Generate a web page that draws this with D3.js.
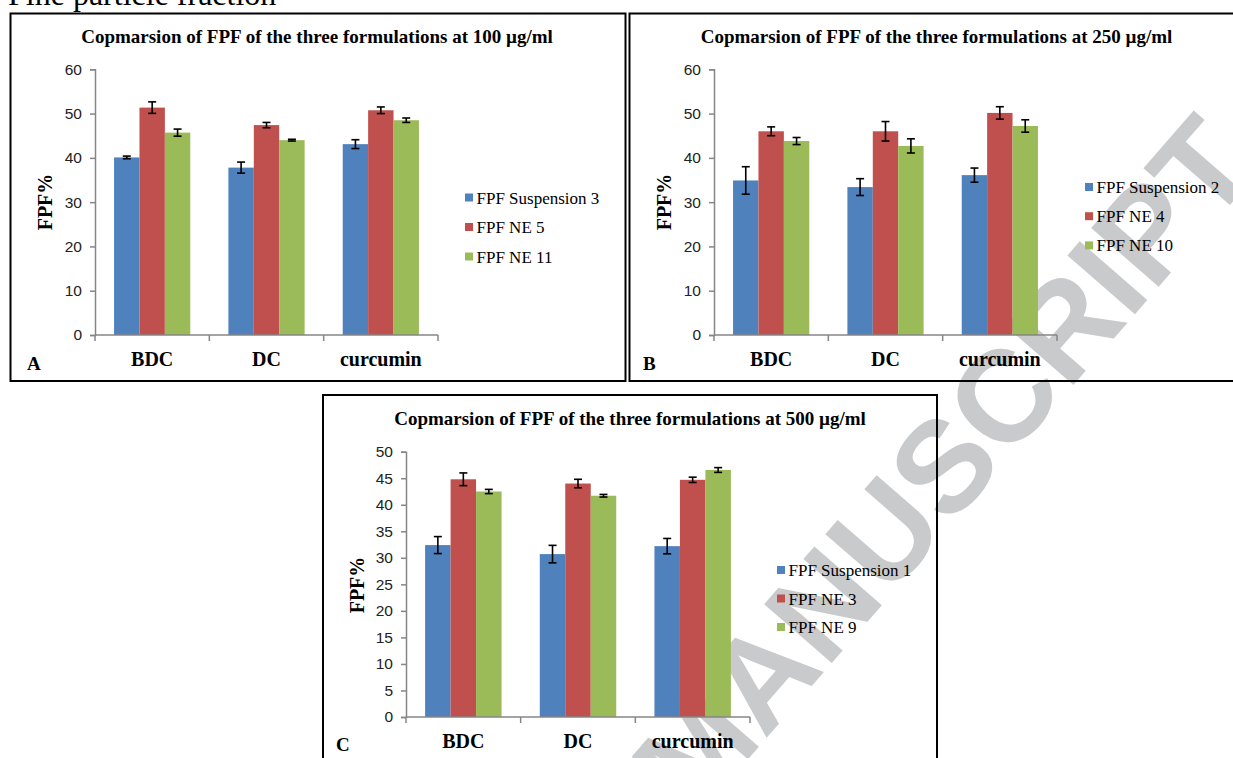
<!DOCTYPE html>
<html><head><meta charset="utf-8">
<script src="https://cdn.jsdelivr.net/npm/d3@7"></script>
<style>body{margin:0;background:#fff;} svg{display:block}</style>
</head><body>
<svg id="c" width="1233" height="758"></svg>
<script>
// ---- data ----
const categories = ["BDC", "DC", "curcumin"];
const colors = ["#4F81BD", "#C0504D", "#9BBB59"];

const titleA = "Copmarsion of FPF of the three formulations at 100 µg/ml";
const seriesA = ["FPF Suspension 3", "FPF NE 5", "FPF NE 11"];
const valuesA = [[40.1, 37.8, 43.1], [51.35, 47.4, 50.75], [45.7, 44.0, 48.5]];
const errorsA = [[0.3, 1.25, 1.0], [1.3, 0.6, 0.75], [0.8, 0.2, 0.5]];

const titleB = "Copmarsion of FPF of the three formulations at 250 µg/ml";
const seriesB = ["FPF Suspension 2", "FPF NE 4", "FPF NE 10"];
const valuesB = [[34.9, 33.4, 36.1], [46.0, 46.0, 50.15], [43.8, 42.7, 47.2]];
const errorsB = [[3.1, 1.9, 1.6], [1.0, 2.2, 1.4], [0.8, 1.6, 1.4]];

const titleC = "Copmarsion of FPF of the three formulations at 500 µg/ml";
const seriesC = ["FPF Suspension 1", "FPF NE 3", "FPF NE 9"];
const valuesC = [[32.4, 30.7, 32.2], [44.8, 44.0, 44.7], [42.5, 41.7, 46.55]];
const errorsC = [[1.6, 1.65, 1.45], [1.2, 0.8, 0.5], [0.4, 0.25, 0.45]];

const ticksAB = [0, 10, 20, 30, 40, 50, 60];
const ticksC = [0, 5, 10, 15, 20, 25, 30, 35, 40, 45, 50];
const yLabel = "FPF%";
const pageHeading = "Fine particle fraction";
const watermark = "ACCEPTED MANUSCRIPT";

// ---- drawing ----
const svg = d3.select("#c");
const serif = "'Liberation Serif','Times New Roman',serif";
const sans = "'Liberation Sans',Arial,sans-serif";

// watermark behind everything
svg.append("text")
  .attr("transform", "translate(1262,168) rotate(-49)")
  .attr("text-anchor", "end")
  .style("font-family", sans).style("font-weight", "bold")
  .style("font-size", "130px").attr("fill", "#c9cacc")
  .text(watermark);

svg.append("text").attr("x", 8).attr("y", 5)
  .style("font-family", serif).style("font-size", "32px").attr("fill", "#000")
  .text(pageHeading);

// boxes
const boxes = [
  {x: 10.5, y: 13.5, w: 615, h: 367.5},
  {x: 629.5, y: 13.5, w: 640, h: 367.5},
  {x: 323, y: 395, w: 614, h: 400}
];
boxes.forEach(b => svg.append("rect").attr("x", b.x).attr("y", b.y).attr("width", b.w).attr("height", b.h)
  .attr("fill", "none").attr("stroke", "#000").attr("stroke-width", 2));

function panel(cfg) {
  const g = svg.append("g");
  const x = d3.scaleBand().domain(categories).range([cfg.x0, cfg.x1]).paddingInner(0).paddingOuter(0);
  const bw = x.bandwidth() / 4.5;
  const y = d3.scaleLinear().domain([0, cfg.ymax]).range([cfg.ybase, cfg.ytop]);

  // title
  g.append("text").attr("x", cfg.titleX).attr("y", cfg.titleY).attr("text-anchor", "middle")
    .style("font-family", serif).style("font-weight", "bold").style("font-size", "19px")
    .text(cfg.title);

  // y axis
  const ya = d3.axisLeft(y).tickValues(cfg.ticks).tickSize(5).tickPadding(8).tickFormat(d3.format("d"));
  const yg = g.append("g").attr("transform", `translate(${cfg.x0},0)`).call(ya);
  yg.select(".domain").attr("stroke", "#868686").attr("stroke-width", 1.5);
  yg.selectAll(".tick line").attr("stroke", "#868686").attr("stroke-width", 1.5);
  yg.selectAll(".tick text").style("font-family", sans).style("font-size", "15.5px").attr("fill", "#222");

  // bars
  cfg.series.forEach((s, si) => {
    g.append("g").selectAll("rect").data(categories).join("rect")
      .attr("x", c => x(c) + bw * (0.75 + si))
      .attr("y", (c, ci) => y(cfg.values[si][ci]))
      .attr("width", bw)
      .attr("height", (c, ci) => y(0) - y(cfg.values[si][ci]))
      .attr("fill", colors[si]);
  });
  // error bars
  cfg.series.forEach((s, si) => {
    categories.forEach((c, ci) => {
      const cx = x(c) + bw * (1.25 + si);
      const v = cfg.values[si][ci], e = cfg.errors[si][ci];
      const eg = g.append("g").attr("stroke", "#000").attr("stroke-width", 1.6);
      eg.append("line").attr("x1", cx).attr("x2", cx).attr("y1", y(v - e)).attr("y2", y(v + e));
      eg.append("line").attr("x1", cx - 4).attr("x2", cx + 4).attr("y1", y(v - e)).attr("y2", y(v - e));
      eg.append("line").attr("x1", cx - 4).attr("x2", cx + 4).attr("y1", y(v + e)).attr("y2", y(v + e));
    });
  });

  // x axis
  g.append("line").attr("x1", cfg.x0).attr("x2", cfg.x1).attr("y1", y(0)).attr("y2", y(0))
    .attr("stroke", "#868686").attr("stroke-width", 1.5);
  const bounds = categories.map(c => x(c)).concat([x(categories[categories.length - 1]) + x.bandwidth()]);
  g.selectAll(".xt").data(bounds).join("line")
    .attr("x1", d => d).attr("x2", d => d).attr("y1", y(0)).attr("y2", y(0) + 6)
    .attr("stroke", "#868686").attr("stroke-width", 1.5);
  g.selectAll(".xl").data(categories).join("text")
    .attr("x", c => x(c) + x.bandwidth() / 2).attr("y", cfg.catY).attr("text-anchor", "middle")
    .style("font-family", serif).style("font-weight", "bold").style("font-size", "20px")
    .text(c => c);

  // y label
  g.append("text").attr("transform", `translate(${cfg.ylabX},${cfg.ylabY}) rotate(-90)`)
    .attr("text-anchor", "middle")
    .style("font-family", serif).style("font-weight", "bold").style("font-size", "20px")
    .text(yLabel);

  // panel letter
  g.append("text").attr("x", cfg.letX).attr("y", cfg.letY)
    .style("font-family", serif).style("font-weight", "bold").style("font-size", "19px")
    .text(cfg.letter);

  // legend
  cfg.series.forEach((s, si) => {
    const cy = cfg.legY + si * cfg.legStep;
    g.append("rect").attr("x", cfg.legX).attr("y", cy - 4).attr("width", 8).attr("height", 8).attr("fill", colors[si]);
    g.append("text").attr("x", cfg.legX + 11.5).attr("y", cy + 6)
      .style("font-family", serif).style("font-size", "17px").attr("fill", "#000")
      .text(s);
  });
}

panel({title: titleA, series: seriesA, values: valuesA, errors: errorsA, ticks: ticksAB, ymax: 60,
  x0: 95, x1: 438, ybase: 335, ytop: 69.3, titleX: 317, titleY: 43, catY: 366,
  ylabX: 52, ylabY: 202, letter: "A", letX: 27, letY: 370,
  legX: 465, legY: 197.5, legStep: 29.5});
panel({title: titleB, series: seriesB, values: valuesB, errors: errorsB, ticks: ticksAB, ymax: 60,
  x0: 714, x1: 1057, ybase: 335, ytop: 69.3, titleX: 936.5, titleY: 43, catY: 366,
  ylabX: 671, ylabY: 202, letter: "B", letX: 643, letY: 370,
  legX: 1085, legY: 187, legStep: 29.2});
panel({title: titleC, series: seriesC, values: valuesC, errors: errorsC, ticks: ticksC, ymax: 50,
  x0: 406, x1: 750, ybase: 717, ytop: 451.7, titleX: 630, titleY: 425, catY: 748,
  ylabX: 364, ylabY: 585, letter: "C", letX: 336, letY: 751,
  legX: 777, legY: 570, legStep: 28.5});
</script>
</body></html>
